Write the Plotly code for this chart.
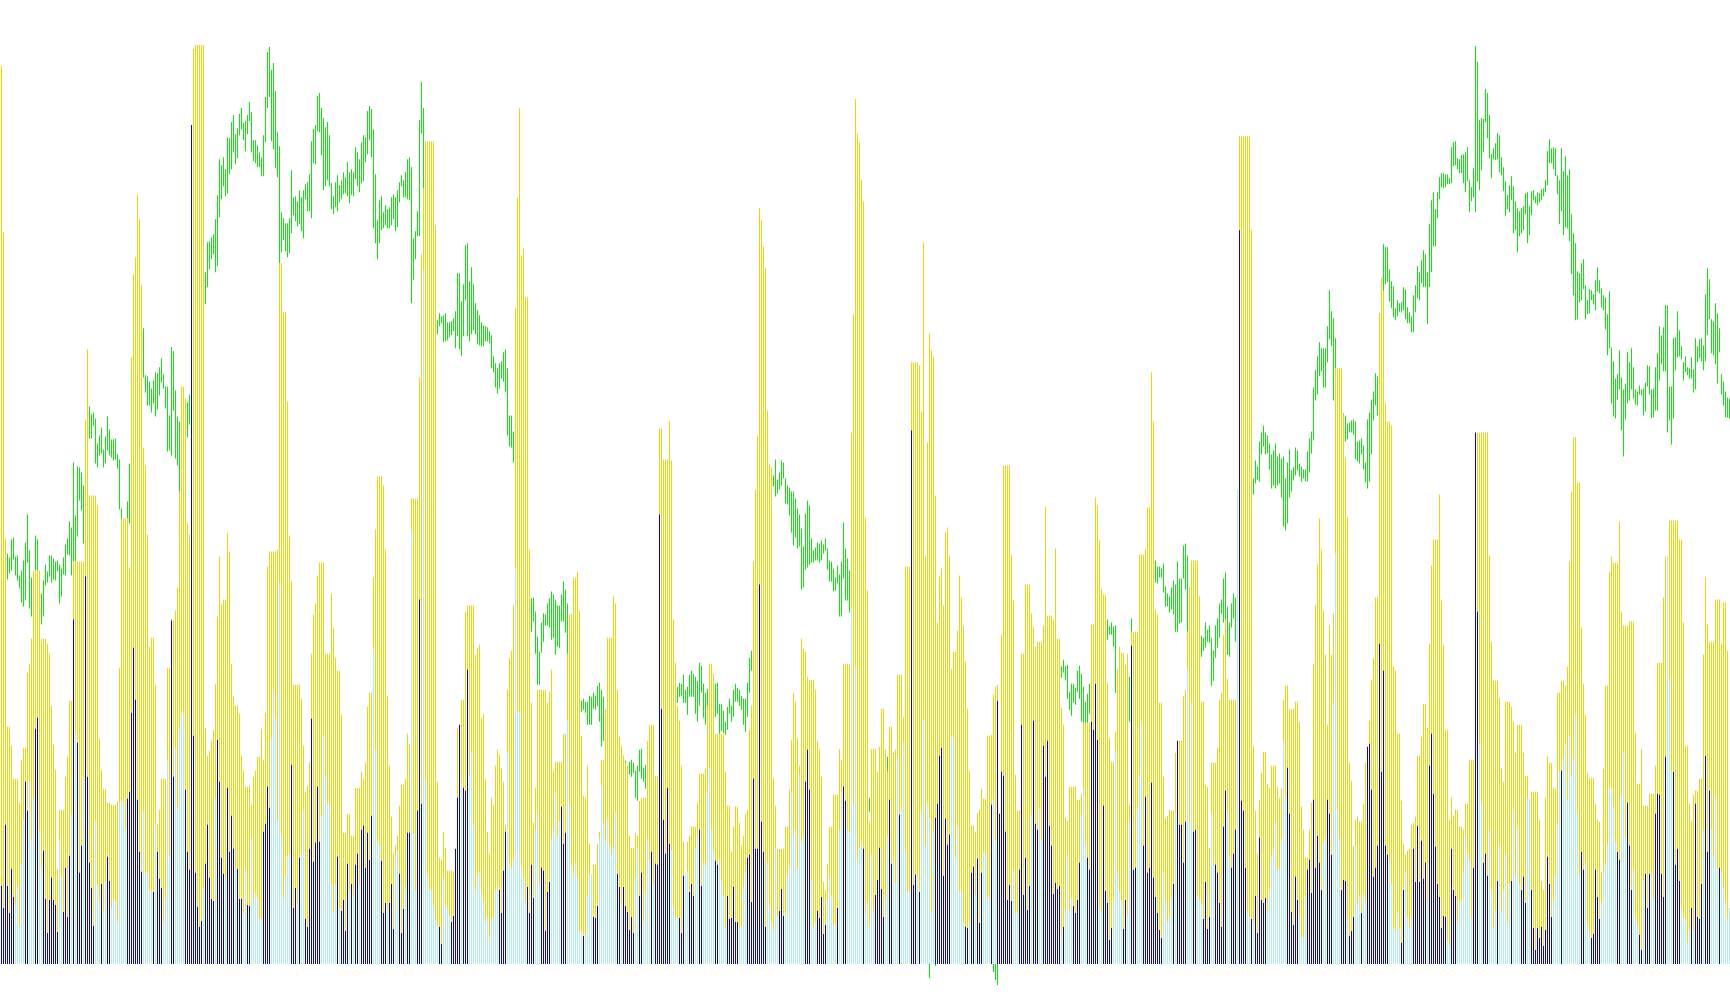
import plotly.graph_objects as go

gold_vals = [
897,731,425,237,237,218,185,185,185,161,204,216,216,291,300,325,393,393,393,393,
325,325,325,320,310,258,219,194,95,154,154,154,187,207,263,263,402,402,402,402,
402,402,544,614,468,468,468,468,458,225,194,175,175,161,161,159,159,159,162,296,
445,445,445,445,396,606,689,706,769,744,678,516,498,429,317,326,326,279,140,154,
185,185,185,296,296,345,343,353,376,472,577,577,565,441,429,838,914,918,918,918,
918,918,236,208,213,223,234,280,347,407,359,364,364,430,412,300,267,258,258,250,
208,193,177,177,178,159,187,193,207,207,235,204,251,397,412,412,412,412,414,700,
700,651,651,562,428,382,279,279,279,279,
265,218,172,178,202,310,349,360,388,401,401,401,310,310,310,370,336,306,293,293,
249,131,131,150,150,128,128,176,176,176,192,185,201,257,271,271,386,434,487,487,
487,478,414,268,198,147,110,118,128,158,179,179,185,230,220,465,465,465,465,586,
709,775,822,822,822,822,822,738,182,106,104,132,116,93,93,93,92,115,236,239,
264,264,352,358,358,358,358,309,316,319,246,250,185,132,110,166,158,198,214,209,
195,182,139,274,306,313,358,655,765,855,708,715,666,666,414,261,141,176,274,274,
274,274,274,261,272,294,193,202,202,202,202,230,230,310,349,349,386,386,392,353,
228,168,166,198,120,
89,99,99,120,132,204,204,255,326,326,326,367,360,274,227,218,208,201,198,128,
116,116,131,128,163,166,166,166,223,239,239,239,188,188,535,535,504,504,504,542,
503,344,301,258,243,198,122,90,122,128,137,137,137,161,190,190,190,195,258,300,
300,290,230,230,230,230,230,192,158,158,112,137,157,157,141,118,128,150,154,234,
258,402,474,528,755,743,717,695,553,499,496,186,158,115,115,115,115,137,137,174,
224,271,262,226,198,325,315,312,287,284,284,284,274,223,214,187,82,74,100,137,
137,169,169,169,215,204,300,300,300,300,531,649,864,830,821,783,762,446,373,142,
215,215,215,192,217,
255,255,214,192,237,237,210,214,289,289,289,247,397,397,397,601,601,601,601,598,
552,721,407,521,630,613,606,468,341,387,395,358,431,436,407,295,312,312,333,388,
366,338,302,255,193,138,138,132,151,154,175,165,165,228,228,229,269,277,279,150,
329,498,498,498,498,409,363,189,153,153,310,310,379,379,379,350,337,317,322,322,
322,338,457,348,348,348,343,415,325,325,256,239,146,143,177,177,177,177,164,164,
170,241,241,241,241,339,339,466,458,423,374,369,369,281,226,202,202,232,294,317,
311,311,299,310,159,332,332,332,332,409,409,409,414,456,456,591,542,354,349,261,
261,187,146,148,154,
153,153,211,223,223,223,268,274,332,376,403,403,403,403,367,262,262,179,177,116,
201,201,201,216,264,271,329,344,285,264,264,264,264,474,827,827,827,827,827,827,
733,218,153,110,164,191,212,212,180,176,198,198,198,177,166,176,264,278,278,255,
255,255,262,262,242,157,134,106,106,134,161,300,358,399,445,414,353,309,239,338,
309,350,595,595,595,595,549,506,446,201,183,118,144,147,142,142,160,201,217,243,
284,306,366,366,650,685,672,561,542,542,538,297,293,230,230,163,120,109,113,115,
139,141,147,208,208,227,260,260,236,320,398,424,424,424,469,363,319,234,234,144,
166,148,154,154,137,137,134,160,160,204,204,204,531,531,531,531,531,531,531,408,
322,283,283,283,266,195,182,262,262,262,257,242,211,239,239,239,211,188,188,166,
172,172,172,172,144,83,74,166,208,201,201,176,175,271,271,283,283,278,297,402,
472,526,526,481,481,336,280,249,191,186,186,186,160,144,142,92,195,278,278,392,
407,401,401,401,442,351,338,338,338,342,342,342,231,180,180,215,158,158,158,170,
170,170,198,301,301,301,366,407,407,443,443,443,443,443,424,424,341,218,218,160,
142,169,173,173,185,185,309,386,339,322,322,322,364,364,364,320,361,361,313,
]

inner_vals = [
78,56,139,78,51,95,67,59,78,40,100,143,182,153,183,123,166,235,246,133,
95,113,65,31,64,86,64,59,32,123,88,52,96,47,108,150,344,232,221,91,
118,185,387,187,101,76,38,143,78,63,80,53,83,107,83,56,65,63,42,161,
162,162,135,165,172,251,316,264,164,112,92,153,91,91,73,73,72,140,112,85,
76,42,66,204,108,343,187,216,156,235,251,250,174,112,94,838,228,91,57,37,
43,75,100,139,86,65,63,166,224,182,106,90,85,176,112,148,115,95,95,65,
65,50,95,59,58,126,65,71,66,45,45,132,140,177,156,225,274,245,143,381,
128,66,88,108,109,199,56,76,60,106,
110,153,45,37,115,245,102,121,177,122,148,228,187,160,160,80,53,80,107,56,
53,64,33,100,74,80,68,99,110,80,134,138,96,131,104,148,315,214,122,119,
103,51,61,56,61,80,35,107,113,90,31,55,77,131,131,433,131,74,153,364,
160,693,184,89,74,74,59,45,39,37,20,86,59,56,50,42,48,115,166,239,
181,176,173,294,188,211,139,74,89,92,71,62,42,47,27,45,47,74,77,74,
51,93,132,211,101,95,104,395,252,252,98,86,62,77,51,99,66,134,151,80,
96,93,33,72,82,125,134,172,128,142,157,120,131,243,160,98,89,101,86,33,
33,28,30,68,89,
89,47,46,58,125,178,139,122,145,119,110,116,151,90,77,59,77,58,52,34,
47,31,86,116,68,91,42,71,125,104,112,80,100,99,449,255,144,110,176,120,
113,56,46,47,46,31,88,90,92,72,80,68,116,128,134,78,101,98,172,196,
134,113,103,99,104,83,68,36,68,45,46,77,42,42,36,39,77,92,106,109,
62,185,115,115,379,142,112,37,101,59,42,33,116,47,53,75,48,50,89,98,
172,128,134,95,190,122,128,182,214,174,83,36,42,53,46,67,30,39,65,89,
68,39,39,56,134,172,177,163,134,131,356,160,297,104,116,122,115,50,62,39,
110,53,69,84,116,
75,47,66,127,164,100,103,81,207,149,155,222,112,72,72,533,79,89,88,72,
152,244,118,161,146,51,133,146,160,208,216,88,145,119,129,227,226,106,138,73,
73,42,37,36,42,91,97,69,105,41,91,112,109,66,66,159,164,124,263,150,
192,188,132,64,79,63,94,51,51,94,239,69,106,54,78,149,243,140,134,155,
124,218,187,223,138,118,70,81,75,78,29,37,54,109,54,66,58,51,64,101,
149,176,121,106,94,242,234,280,224,57,51,158,73,61,24,36,63,213,91,72,
63,35,64,48,143,318,94,96,155,188,241,118,167,91,96,181,86,67,51,34,
26,91,63,42,48,
65,80,151,223,139,139,101,142,296,142,261,132,134,68,64,61,45,82,35,47,
151,101,99,91,61,37,137,173,151,107,96,110,134,474,733,163,153,96,53,47,
45,39,68,31,126,64,61,66,53,74,107,113,142,95,95,125,223,166,196,150,
52,39,87,64,47,27,27,68,94,104,71,164,96,128,101,74,122,125,164,150,
109,261,410,154,125,74,84,83,45,28,33,47,119,59,68,51,71,62,217,220,
174,87,96,118,320,192,293,118,109,104,80,36,33,53,36,21,74,92,47,36,
47,115,82,138,82,123,85,101,62,198,230,170,117,80,67,36,48,47,24,18,
115,74,68,39,62,64,92,128,110,104,45,96,531,352,220,160,101,110,88,134,
74,36,53,83,119,53,74,110,42,80,83,154,89,137,80,74,87,61,166,166,
74,36,14,36,26,37,18,34,107,80,47,64,89,139,193,193,205,220,164,228,
188,204,249,151,89,112,94,101,39,33,26,30,94,67,45,62,92,101,119,176,
176,157,122,112,104,169,211,125,161,118,74,95,47,39,29,14,83,90,56,90,
92,65,150,170,169,90,67,207,407,285,193,192,99,115,83,56,45,45,21,33,
56,33,160,47,45,80,134,208,112,173,134,107,169,95,96,92,77,62,45,56,
]

blue_bars_a = [0,1,2,3,4,5,6,12,13,17,18,21,22,23,24,25,26,27,28,31,32,33,34,36,38,39,40,42,43,44,45,46,50,53,54,63,64,65,66,67,68,69,70,76,78,79,80,85,86,92,93,94,95,96,97,98,99,100,102,103,104,105,106,108,109,110,111,113,114,115,116,118,119,120,123,124,131,132,133,134,145,146,147,149]
blue_bars_b = [152,153,154,155,156,157,158,159,168,170,171,172,173,175,177,178,180,181,182,183,184,185,190,191,192,194,195,196,199,200,201,203,204,208,209,210,219,220,225,226,227,228,229,231,232,233,249,250,251,252,263,264,265,266,270,271,272,273,274,280,281,282,291]
blue_bars_c = [296,297,298,308,309,311,312,313,314,315,316,319,320,325,327,328,329,330,331,332,333,334,339,340,341,344,345,346,349,350,357,358,363,364,365,366,367,368,373,374,375,376,377,378,379,380,381,382,389,390,391,402,403,404,408,409,410,411,412,418,421,422,431,437,438,439]
blue_bars_d = [440,441,444,445,449,455,456,457,459,467,468,469,470,471,472,473,474,482,483,485,486,488,489,490,495,498,499,500,501,502,503,504,505,509,510,511,512,513,514,516,517,518,521,522,523,524,525,526,527,528,529,531,536,537,538,539,543,544,545,546,547,548,551,552,553,554,555,561,562,565,566,567,571,572,573,574,575,576,577,578,579,580]
blue_bars_e = [586,588,589,590,591,592,596,597,601,602,603,604,607,608,609,610,611,612,615,616,617,619,620,621,622,625,627,628,629,630,631,632,643,644,645,646,647,648,653,654,655,656,657,658,659,660,663,664,665,670,671,672,674,675,676,680,683,684,685,686,687,688,689,690,691,692,693,700,701,706,707,708,709,710,711,712,714,715,716,717,718,719,720,721,722]
blue_bars_f = [725,726,727,736,737,738,741,742,743,748,755,760,761,762,765,766,767,768,769,770,771,772,773,774,775,780,790,791,795,796,797,798,799,808,809,813,814,815,819,820,822,823,824,827,828,829,830,831,832,836,837,838,839,845,847,848,849,850,852,853,854,859]
blue_bars = set(blue_bars_a + blue_bars_b + blue_bars_c + blue_bars_d + blue_bars_e + blue_bars_f)

green_runs = [
    (3, [410,384,406,390,424,393,426,404,407,388,408,383,388,375,393,361,403,357,421,363,449,401,413,355,386,347]),
    (17, [428,393,424,393]),
    (20, [370,339,383,347,399,378,392,381,408,387,408,381,405,384,402,383,403,392,399,360,395,367,406,389,419,388,425,409,442,408,436,388,501,402,448,402,497,427,496,463,491,453,478,420]),
    (44, [557,525,549,525,551,538,545,500,520,496,528,508,536,510,514,496,527,500,547,513,534,508,524,506,524,503,525,504,509,495,504,454,455,414]),
    (63, [462,445,500,440]),
    (71, [635,586,588,571,587,558,582,558,575,551,583,560,591,547,590,554,596,568,605,581,589,575,577,555,577,512,548,513,616,508,612,553,573,505,547,498,542,472]),
    (93, [561,526,569,539]),
    (102, [691,659,721,676,722,694,726,704,729,709,744,691,768,697,804,746,798,764,806,777,794,767,826,770,825,789,841,794,848,811,829,799,835,805,849,828,855,834,840,823,842,812,848,829,861,842,851,811,823,802,823,800,818,796,811,796,806,787,828,787,866,821,911,855,916,866,893,822,900,814,872,795,831,786,817,700,751,711,745,723,740,712,740,706,745,710,793,730,766,748,767,742,762,737,773,739]),
    (150, [766,732,773,725,779,764,781,752,789,752,822,745,834,800,838,799,867,832,870,831,855,808,845,773,836,777,841,783,828,777,780,754,767,749,781,756,788,752,778,761,783,764,791,769,786,770,801,767,791,760,794,768,791,767,816,784,811,777,804,771,821,780,828,782,826,801,852,809,857,823,854,806,834,735,789,720,743,704,763,720,767,733,751,735,758,738,754,735,756,735,766,738,769,744,766,732,773,736,781,761,788,777,783,766,791,766,804,764,806,763,796,660,725,683,732,704,752,727,843,727,881,830,855,775]),
    (218, [643,629,650,637,647,640,648,621,650,622,641,623,641,626,642,628,645,632,652,615,690,627,690,614,662,607,679,627,718,663,720,627,682,622,696,629,679,633,660,629,653,619,648,618,641,617,638,617,637,622,636,622,632,620,628,595,607,591,600,576,595,570,600,575,602,585,611,582,614,572,595,528,548,517,548,516,532,501]),
    (265, [365,332,366,342,352,310,327,279,312,279,341,311,350,322,349,338,360,338,365,336,372,324,369,326,364,309,358,317,358,316,369,342,382,342,374,331,360,310]),
    (290, [263,252,265,254,262,251,262,239,268,239]),
    (295, [267,239,271,255,268,254,278,258,281,242,274,217,267,223]),
    (311, [208,187,203,185,198,175,202,189,204,187,201,191,193,166,198,163,214,192,215,185,196,182,199,175]),
    (338, [277,261,281,267,280,268,289,261,274,261,277,249,289,267,293,267,290,267,287,250,283,242,301,258,298,271,280,246,271,239,275,256]),
    (357, [280,247,281,250,260,230,260,233,253,231,242,229,257,234,265,250,258,242,274,247,280,262,276,262,274,258,268,254,265,239,265,232,281,247,306,271,313,293]),
    (385, [493,488,488,477,504,467,484,470,491,474,503,478,501,485,485,460,478,459,476,448,472,431,472,418,465,426,455,415,449,417,435,374,417,376,450,394,463,396,458,399,425,401,413,401,416,403,421,403,420,401,423,403,419,410,425,413,415,394,403,382,402,382,395,372,386,373,398,380,389,347,402,347,441,385,415,363,405,363,393,351]),
    (434, [166,152]),
    (443, [207,192]),
    (446, [211,204]),
    (464, [0,-14]),
    (467, [0,-2]),
    (496, [0,-8,0,-16,0,-21]),
    (530, [297,286,304,291,298,284,299,265,272,254,280,248,280,261,276,259,293,272,298,265,290,242,277,241,262,241,270,241,280,250]),
    (553, [344,324,337,329,341,329,337,317,338,271]),
    (564, [287,242,345,332]),
    (577, [403,381,397,380,397,386,395,386,400,371,377,357,370,357,367,351]),
    (585, [376,354,383,349,379,332,402,332,385,340,385,341,418,385,420,374,408,332]),
    (600, [328,307,326,313,341,316,334,322,338,321,326,278,313,283,338,306,345,316,360,326,364,350,385,341,391,344,357,309,341,307,360,336,370,345,366,322]),
    (626, [485,469,503,480,497,484,522,482,531,509,538,517,531,509,528,510,520,494,509,475,513,478,520,475,507,478,510,480,505,466,507,437,485,433,501,440,514,466,493,472,496,483,516,488,513,493,500,487,497,482,494,485,494,482,512,482,525,491,532,510,576,523,593,563,607,569,621,587,615,592,615,576,615,576,637,601,673,624,652,617,645,563,625,558]),
    (671, [550,522,548,522,540,524,541,531,543,531,544,529,542,504,522,502,523,500,525,509,518,494,501,481,544,475,551,482,564,509,572,543,590,558,587,548,650,564,685,652,719,672,716,679,716,681,694,662,682,655,677,646,655,643,663,647,660,651,661,651,676,653,674,644,656,640,651,640,647,631,668,631,678,651,697,665,691,663,703,680,713,676,709,676,691,639,739,676,763,691,771,717,754,717,771,745,786,764,790,776,790,775,789,776,789,779,785,779]),
    (725, [816,780,821,797,822,798,805,794,804,790,808,790,809,780,811,771,816,782,783,751,776,762,795,766,917,751,901,782,843,773,845,793,844,811,874,841,870,825,848,805,809,785,815,804,820,803,830,804,828,791,806,788,796,772,782,747,768,754,778,751,787,763,777,730,762,733,755,711,752,727,755,730,757,733,770,749,771,720,757,728,772,748,773,763,767,760,771,758,770,761,774,763,775,767,783,771,812,778,824,800,815,800,816,794,815,787,788,769,783,739,815,752,792,728,807,736,788,735,794,722,749,689,730,668,720,643,692,644,690,661,700,663,704,674,678,644,663,649,674,650,673,663,669,659,683,653,696,672,683,670,675,656,668,653,666,634,649,608,672,615,616,560,602,547,585,545,589,564,613,574,586,533,574,507,580,544,611,560,601,563,615,574,596,565,574,559,572,558,578,569,574,568,575,548,581,552,598,577,597,569,574,545,575,546,596,553,610,553,637,583,628,599,636,592,658,592,658,531,577,543,577,519,625,545,626,593,652,606,633,607,617,604,601,583,607,591,596,588,595,585,606,585,594,571,625,574,617,601,624,605,625,602,618,593,669,602,695,628,684,644,644,610,642,608,660,599,650,580,635,611,589,569,582,558,572,546,566,546,565,545]),
]

BLUE = "#0000FF"
CYAN = "#AFEEEE"
GOLD = "#FFD000"
GREEN = "#00F000"

green_bar, green_low, green_span = [], [], []
for start, flat in green_runs:
    for k in range(0, len(flat), 2):
        green_bar.append(start + k // 2)
        green_span.append(flat[k] - flat[k + 1])
        green_low.append(flat[k + 1])

bar_index = list(range(len(gold_vals)))
inner_index = list(range(len(inner_vals)))
blue_x = [i for i in inner_index if i in blue_bars]
blue_y = [inner_vals[i] for i in blue_x]
cyan_x = [i for i in inner_index if i not in blue_bars]
cyan_y = [inner_vals[i] for i in cyan_x]

common = dict(width=0.48, marker_line_width=0, hoverinfo="skip", showlegend=False)
fig = go.Figure()
fig.add_trace(go.Bar(x=green_bar, y=green_span, base=green_low, marker_color=GREEN, **common))
fig.add_trace(go.Bar(x=bar_index, y=gold_vals, marker_color=GOLD, **common))
fig.add_trace(go.Bar(x=cyan_x, y=cyan_y, marker_color=CYAN, **common))
fig.add_trace(go.Bar(x=blue_x, y=blue_y, marker_color=BLUE, **common))

fig.update_layout(
    width=1730, height=1005, barmode="overlay",
    margin=dict(l=0, r=0, t=0, b=0),
    paper_bgcolor="white", plot_bgcolor="white",
    xaxis=dict(range=[-0.75, 864.25], visible=False),
    yaxis=dict(range=[-41, 963], visible=False),
)
fig.write_html("out.html", post_script="document.body.style.margin='0';", config={"displayModeBar": False})
